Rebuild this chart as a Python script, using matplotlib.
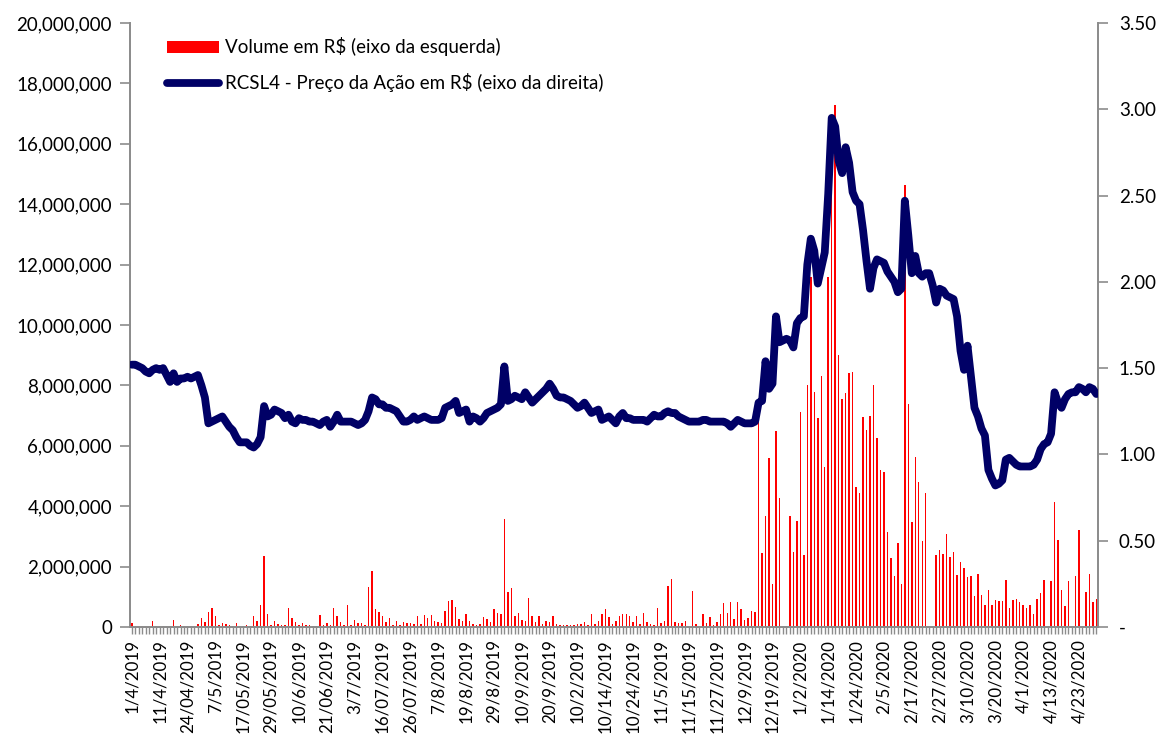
import matplotlib
matplotlib.use("Agg")
import matplotlib.pyplot as plt
from matplotlib.patches import Patch
from matplotlib.lines import Line2D
from matplotlib.ticker import FuncFormatter

plt.rcParams['font.family'] = ['Lato', 'DejaVu Sans']

# Volume diário em milhões de R$
volume_mi = [
    0.13, 0.03, 0.02, 0.02, 0.03, 0.02, 0.21, 0.03, 0.02, 0.02,
    0.02, 0.03, 0.22, 0.03, 0.06, 0.02, 0.02, 0.02, 0.03, 0.10,
    0.31, 0.18, 0.50, 0.62, 0.36, 0.07, 0.13, 0.10, 0.08, 0.04,
    0.13, 0.03, 0.03, 0.08, 0.03, 0.37, 0.20, 0.72, 2.35, 0.42,
    0.08, 0.20, 0.10, 0.05, 0.08, 0.62, 0.30, 0.16, 0.08, 0.13,
    0.08, 0.05, 0.03, 0.03, 0.40, 0.08, 0.14, 0.06, 0.62, 0.35,
    0.16, 0.06, 0.72, 0.05, 0.22, 0.13, 0.12, 0.06, 1.34, 1.85,
    0.60, 0.50, 0.36, 0.17, 0.31, 0.05, 0.19, 0.08, 0.18, 0.14,
    0.13, 0.10, 0.37, 0.10, 0.40, 0.30, 0.40, 0.20, 0.18, 0.12,
    0.52, 0.86, 0.90, 0.67, 0.28, 0.19, 0.42, 0.21, 0.10, 0.05,
    0.09, 0.33, 0.27, 0.16, 0.60, 0.46, 0.44, 3.57, 1.15, 1.30,
    0.36, 0.47, 0.24, 0.20, 0.95, 0.36, 0.18, 0.36, 0.10, 0.19,
    0.15, 0.37, 0.09, 0.08, 0.06, 0.05, 0.08, 0.07, 0.11, 0.11,
    0.18, 0.08, 0.43, 0.11, 0.19, 0.43, 0.60, 0.33, 0.10, 0.19,
    0.38, 0.43, 0.42, 0.36, 0.16, 0.37, 0.11, 0.45, 0.16, 0.10,
    0.08, 0.63, 0.12, 0.21, 1.36, 1.58, 0.18, 0.14, 0.12, 0.20,
    0.00, 1.20, 0.11, 0.00, 0.42, 0.14, 0.32, 0.06, 0.15, 0.43,
    0.79, 0.47, 0.84, 0.28, 0.84, 0.58, 0.22, 0.31, 0.52, 0.49,
    6.90, 2.46, 3.68, 5.58, 1.43, 6.50, 4.26, 0.00, 0.00, 3.68,
    2.49, 3.52, 7.12, 2.37, 8.00, 11.60, 7.78, 6.93, 8.31, 5.30,
    11.60, 14.85, 17.30, 9.00, 7.55, 7.75, 8.41, 8.45, 4.65, 4.44,
    6.95, 6.52, 7.00, 8.00, 6.26, 5.20, 5.14, 3.15, 2.28, 1.70,
    2.77, 1.42, 14.64, 7.37, 3.49, 5.64, 4.79, 2.86, 4.45, 0.00,
    0.00, 2.40, 2.55, 2.43, 3.09, 2.32, 2.48, 1.71, 2.14, 1.94,
    1.66, 1.69, 1.03, 1.74, 1.06, 0.74, 1.22, 0.74, 0.89, 0.86,
    0.87, 1.57, 0.63, 0.89, 0.94, 0.82, 0.72, 0.63, 0.72, 0.42,
    0.94, 1.12, 1.57, 0.00, 1.52, 4.14, 2.88, 1.22, 0.69, 1.52,
    0.00, 1.68, 3.22, 0.00, 1.17, 1.75, 0.82, 0.94,
]

# Preço de fechamento RCSL4 em R$
preco = [
    1.52, 1.52, 1.51, 1.50, 1.48, 1.47, 1.49, 1.50, 1.49, 1.50,
    1.46, 1.42, 1.47, 1.42, 1.44, 1.44, 1.45, 1.44, 1.45, 1.46,
    1.40, 1.33, 1.18, 1.19, 1.20, 1.21, 1.22, 1.19, 1.16, 1.14,
    1.10, 1.07, 1.07, 1.07, 1.05, 1.04, 1.06, 1.10, 1.28, 1.22,
    1.23, 1.26, 1.25, 1.24, 1.21, 1.23, 1.19, 1.18, 1.21, 1.20,
    1.20, 1.19, 1.19, 1.18, 1.17, 1.19, 1.20, 1.16, 1.19, 1.23,
    1.19, 1.19, 1.19, 1.19, 1.18, 1.17, 1.18, 1.20, 1.25, 1.33,
    1.32, 1.29, 1.29, 1.27, 1.27, 1.26, 1.25, 1.22, 1.19, 1.19,
    1.20, 1.22, 1.20, 1.21, 1.22, 1.21, 1.20, 1.20, 1.20, 1.21,
    1.27, 1.28, 1.29, 1.31, 1.24, 1.25, 1.26, 1.19, 1.22, 1.21,
    1.19, 1.21, 1.24, 1.25, 1.26, 1.27, 1.29, 1.51, 1.31, 1.32,
    1.34, 1.33, 1.32, 1.36, 1.33, 1.30, 1.32, 1.34, 1.36, 1.38,
    1.41, 1.38, 1.34, 1.33, 1.33, 1.32, 1.31, 1.29, 1.27, 1.28,
    1.30, 1.27, 1.24, 1.25, 1.26, 1.20, 1.21, 1.22, 1.20, 1.18,
    1.22, 1.24, 1.21, 1.21, 1.20, 1.20, 1.20, 1.20, 1.19, 1.21,
    1.23, 1.22, 1.22, 1.24, 1.25, 1.24, 1.24, 1.22, 1.21, 1.20,
    1.19, 1.19, 1.19, 1.19, 1.20, 1.20, 1.19, 1.19, 1.19, 1.19,
    1.19, 1.18, 1.16, 1.18, 1.20, 1.19, 1.18, 1.18, 1.18, 1.19,
    1.30, 1.31, 1.54, 1.38, 1.41, 1.80, 1.65, 1.66, 1.67, 1.66,
    1.62, 1.76, 1.79, 1.80, 2.10, 2.25, 2.18, 1.99, 2.08, 2.17,
    2.51, 2.95, 2.90, 2.70, 2.63, 2.78, 2.69, 2.52, 2.47, 2.45,
    2.30, 2.12, 1.96, 2.08, 2.13, 2.12, 2.11, 2.06, 2.03, 2.00,
    1.94, 1.96, 2.47, 2.27, 2.05, 2.15, 2.05, 2.03, 2.05, 2.05,
    1.98, 1.88, 1.96, 1.95, 1.92, 1.91, 1.90, 1.80, 1.60, 1.49,
    1.63, 1.45, 1.27, 1.22, 1.15, 1.11, 0.91, 0.86, 0.82, 0.83,
    0.85, 0.97, 0.98, 0.96, 0.94, 0.93, 0.93, 0.93, 0.93, 0.94,
    0.97, 1.03, 1.06, 1.07, 1.12, 1.36, 1.30, 1.27, 1.32, 1.35,
    1.36, 1.36, 1.39, 1.38, 1.36, 1.39, 1.38, 1.35,
]

# Rótulos do eixo x (um a cada 8 pregões)
rotulos_x = [
    "1/4/2019", "11/4/2019", "24/04/2019", "7/5/2019", "17/05/2019",
    "29/05/2019", "10/6/2019", "21/06/2019", "3/7/2019", "16/07/2019",
    "26/07/2019", "7/8/2019", "19/8/2019", "29/8/2019", "10/9/2019",
    "20/9/2019", "10/2/2019", "10/14/2019", "10/24/2019", "11/5/2019",
    "11/15/2019", "11/27/2019", "12/9/2019", "12/19/2019", "1/2/2020",
    "1/14/2020", "1/24/2020", "2/5/2020", "2/17/2020", "2/27/2020",
    "3/10/2020", "3/20/2020", "4/1/2020", "4/13/2020", "4/23/2020",
]
passo_rotulo = 8

n = len(preco)
x = list(range(n))
volume = [v * 1e6 for v in volume_mi]

cinza = '#8c8c8c'
fig = plt.figure(figsize=(11.62, 7.34), dpi=100)
ax = fig.add_axes([0.1119, 0.1458, 0.8331, 0.8229])
ax2 = ax.twinx()

ax.bar(x, volume, width=0.42, color='#ff0000', zorder=2)
ax2.plot(x, preco, color='#000066', lw=5.6, solid_joinstyle='round',
         solid_capstyle='round', zorder=3)

ax.set_xlim(-0.5, n - 0.5)
ax.set_ylim(0, 20e6)
ax2.set_ylim(0, 3.5)
ax.set_yticks([i * 2e6 for i in range(11)])
ax2.set_yticks([i * 0.5 for i in range(8)])
ax.yaxis.set_major_formatter(FuncFormatter(lambda v, p: f"{v:,.0f}"))
ax2.yaxis.set_major_formatter(FuncFormatter(lambda v, p: "-" if v == 0 else f"{v:.2f}"))

ax.set_xticks(list(range(0, n, passo_rotulo))[:len(rotulos_x)])
ax.set_xticklabels(rotulos_x, rotation=90, fontsize=12.2)
ax.set_xticks(x, minor=True)

for a in (ax, ax2):
    for s in a.spines.values():
        s.set_color(cinza)
        s.set_linewidth(1.3)
    a.spines['top'].set_visible(False)
ax.tick_params(axis='y', labelsize=13.5, length=7, width=1.2, color=cinza, pad=6)
ax2.tick_params(axis='y', labelsize=13.5, length=7, width=1.2, color=cinza, pad=8)
ax.tick_params(axis='x', which='major', length=5, width=1, color=cinza, pad=4)
ax.tick_params(axis='x', which='minor', length=5, width=1, color=cinza)

handles = [
    Patch(facecolor='#ff0000', edgecolor='none'),
    Line2D([0], [0], color='#000066', lw=5.6, solid_capstyle='round'),
]
labels = ["Volume em R$ (eixo da esquerda)",
          "RCSL4 - Preço da Ação em R$ (eixo da direita)"]
ax2.legend(handles, labels, loc='upper left', bbox_to_anchor=(0.0205, 1.004),
           frameon=False, fontsize=13.5, handlelength=2.8, handleheight=0.6,
           handletextpad=0.3, labelspacing=0.9)

fig.savefig('out.png', dpi=100)
